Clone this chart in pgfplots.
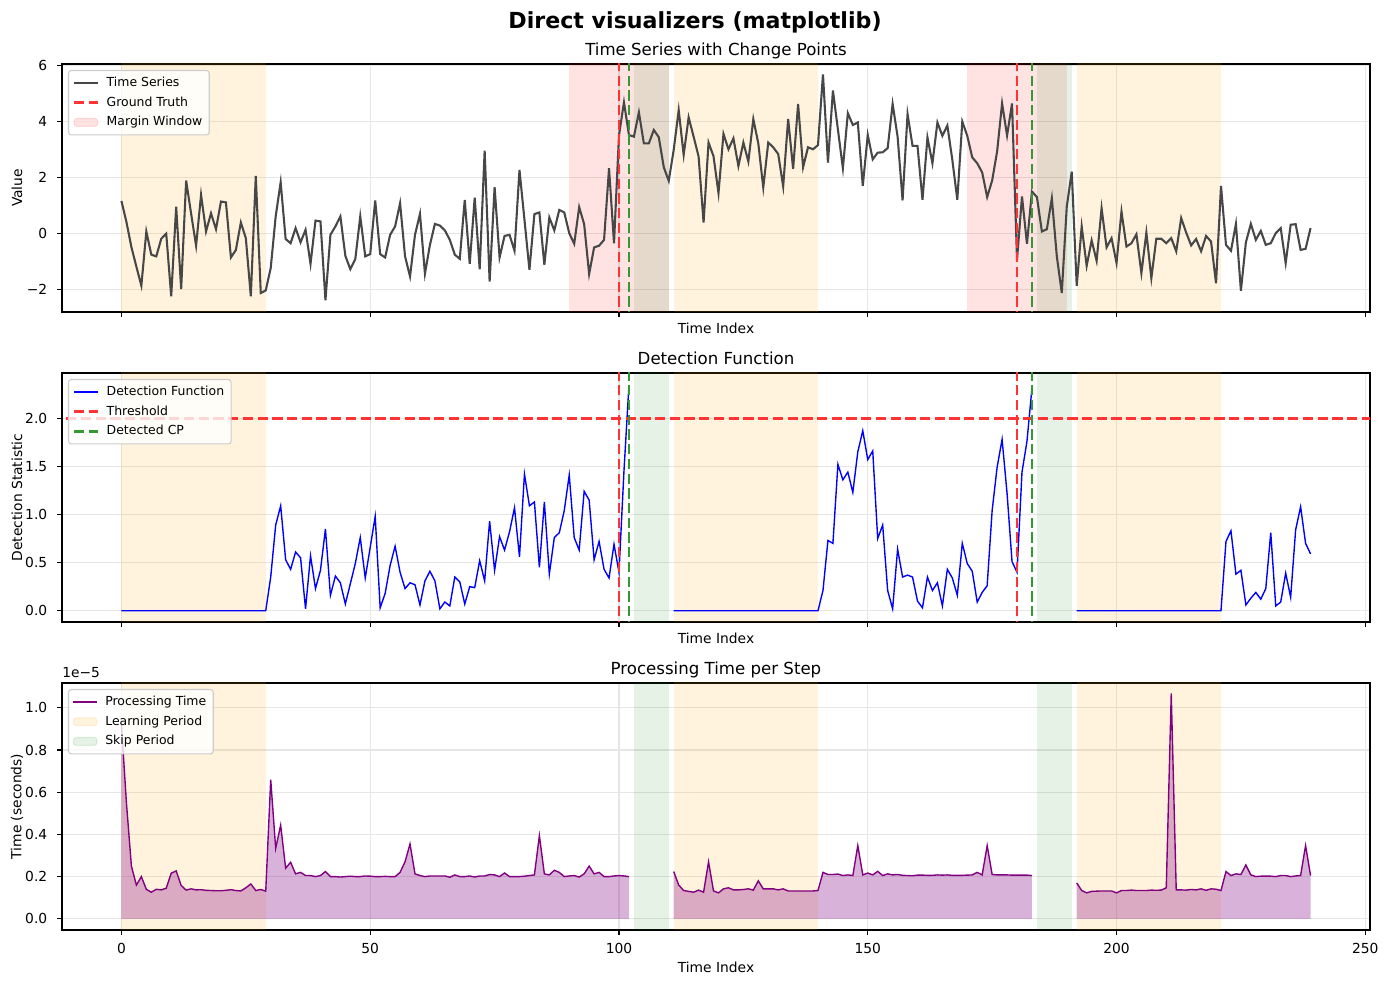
\documentclass[border=0pt]{standalone}
\usepackage{pgfplots}
\pgfplotsset{compat=1.18}
\usepackage{pgfplotstable}
\usepackage{fontspec}
\setmainfont{DejaVu Sans}

\definecolor{tsgray}{HTML}{474747}
\definecolor{gtred}{HTML}{FF3333}
\definecolor{cpgreen}{HTML}{339933}
\definecolor{mplpurple}{HTML}{800080}
\definecolor{mplgreen}{HTML}{008000}
\definecolor{mplorange}{HTML}{FFA500}
\definecolor{mplblue}{HTML}{0000FF}
\definecolor{gridgray}{HTML}{E6E6E6}
\definecolor{legframe}{HTML}{CCCCCC}

% x: step index, ts: observed series, det: detection statistic,
% pt: processing time per step (units of 1e-5 s); nan = skipped step
\pgfplotstableread{
x ts det pt
0 1.15 0 0.92
1 0.40 0 0.55
2 -0.50 0 0.25
3 -1.20 0 0.16
4 -1.88 0 0.20
5 0.06 0 0.14
6 -0.77 0 0.126
7 -0.83 0 0.14
8 -0.20 0 0.137
9 -0.02 0 0.145
10 -2.26 0 0.216
11 0.95 0 0.227
12 -2.00 0 0.158
13 1.88 0 0.136
14 0.70 0 0.142
15 -0.45 0 0.137
16 1.37 0 0.138
17 0.06 0 0.135
18 0.71 0 0.134
19 0.14 0 0.133
20 1.13 0 0.133
21 1.10 0 0.135
22 -0.87 0 0.138
23 -0.60 0 0.134
24 0.38 0 0.132
25 -0.18 0 0.147
26 -2.26 0 0.165
27 2.05 0 0.134
28 -2.14 0 0.139
29 -2.05 0 0.131
30 -1.25 0.35 0.66
31 0.60 0.89 0.334
32 1.82 1.09 0.444
33 -0.21 0.53 0.24
34 -0.36 0.43 0.268
35 0.18 0.61 0.213
36 -0.33 0.55 0.22
37 0.12 0.02 0.205
38 -1.10 0.57 0.205
39 0.45 0.23 0.20
40 0.42 0.42 0.205
41 -2.40 0.85 0.224
42 -0.06 0.16 0.20
43 0.24 0.36 0.20
44 0.60 0.29 0.198
45 -0.81 0.07 0.20
46 -1.29 0.28 0.202
47 -0.93 0.49 0.20
48 0.60 0.76 0.20
49 -0.83 0.34 0.203
50 -0.75 0.66 0.202
51 1.17 0.98 0.20
52 -0.75 0.03 0.20
53 -0.87 0.18 0.201
54 -0.06 0.47 0.20
55 0.24 0.67 0.20
56 1.07 0.40 0.22
57 -0.83 0.23 0.27
58 -1.55 0.29 0.355
59 -0.06 0.27 0.213
60 0.69 0.06 0.205
61 -1.45 0.31 0.20
62 -0.42 0.41 0.203
63 0.33 0.31 0.203
64 0.27 0.02 0.203
65 0.10 0.09 0.203
66 -0.24 0.05 0.197
67 -0.77 0.35 0.208
68 -0.92 0.30 0.20
69 1.19 0.07 0.20
70 -1.10 0.25 0.203
71 1.27 0.24 0.198
72 -1.29 0.52 0.203
73 2.95 0.31 0.203
74 -1.73 0.93 0.21
75 1.64 0.42 0.208
76 -0.87 0.77 0.20
77 -0.10 0.63 0.217
78 -0.06 0.82 0.20
79 -0.63 1.07 0.20
80 2.26 0.56 0.20
81 0.48 1.42 0.202
82 -1.31 1.09 0.205
83 0.68 1.13 0.208
84 0.74 0.45 0.394
85 -1.13 1.13 0.213
86 0.56 0.38 0.208
87 0.10 0.76 0.23
88 0.83 0.81 0.22
89 0.74 1.04 0.20
90 0.00 1.41 0.203
91 -0.38 0.76 0.205
92 0.93 0.63 0.198
93 0.32 1.24 0.213
94 -1.46 1.15 0.25
95 -0.51 0.53 0.213
96 -0.45 0.72 0.22
97 -0.24 0.43 0.20
98 2.32 0.34 0.20
99 -0.36 0.69 0.203
100 3.50 0.40 0.205
101 4.68 1.45 0.203
102 3.51 2.34 0.20
103 3.45 nan nan
104 4.32 nan nan
105 3.21 nan nan
106 3.21 nan nan
107 3.69 nan nan
108 3.43 nan nan
109 2.36 nan nan
110 1.87 nan nan
111 2.98 0 0.224
112 4.40 0 0.16
113 2.80 0 0.134
114 4.14 0 0.13
115 3.45 0 0.126
116 2.74 0 0.136
117 0.38 0 0.126
118 3.24 0 0.27
119 2.75 0 0.132
120 1.43 0 0.123
121 3.55 0 0.142
122 3.00 0 0.147
123 3.39 0 0.137
124 2.40 0 0.137
125 3.24 0 0.139
126 2.56 0 0.142
127 4.08 0 0.136
128 3.21 0 0.18
129 1.63 0 0.142
130 3.24 0 0.142
131 3.07 0 0.142
132 2.83 0 0.137
133 1.67 0 0.142
134 4.08 0 0.132
135 2.30 0 0.132
136 4.62 0 0.132
137 2.36 0 0.132
138 3.07 0 0.132
139 3.00 0 0.132
140 3.15 0 0.134
141 5.68 0.21 0.22
142 2.52 0.73 0.21
143 5.10 0.70 0.21
144 3.71 1.52 0.212
145 2.32 1.36 0.205
146 4.29 1.44 0.208
147 3.87 1.23 0.205
148 3.96 1.65 0.347
149 1.69 1.87 0.208
150 3.51 1.57 0.217
151 2.64 1.66 0.208
152 2.88 0.75 0.225
153 2.89 0.89 0.205
154 3.04 0.21 0.213
155 4.62 0.02 0.208
156 3.45 0.64 0.21
157 1.17 0.35 0.206
158 4.26 0.37 0.205
159 3.12 0.35 0.204
160 3.12 0.10 0.207
161 1.19 0.03 0.207
162 3.42 0.35 0.206
163 2.50 0.21 0.206
164 3.96 0.29 0.208
165 3.48 0.05 0.207
166 3.85 0.43 0.208
167 2.62 0.34 0.206
168 1.19 0.16 0.206
169 3.99 0.70 0.206
170 3.48 0.49 0.207
171 2.71 0.41 0.208
172 2.50 0.09 0.22
173 2.17 0.19 0.208
174 1.29 0.26 0.347
175 1.88 1.04 0.21
176 2.92 1.49 0.208
177 4.64 1.78 0.208
178 3.49 1.22 0.208
179 4.64 0.51 0.207
180 -0.95 0.40 0.207
181 1.31 1.44 0.207
182 -0.38 1.76 0.207
183 1.49 2.31 0.205
184 1.29 nan nan
185 0.06 nan nan
186 0.14 nan nan
187 1.25 nan nan
188 -0.83 nan nan
189 -2.14 nan nan
190 0.95 nan nan
191 2.20 nan nan
192 -1.88 0 0.17
193 0.24 0 0.134
194 -1.17 0 0.123
195 -0.26 0 0.13
196 -0.99 0 0.131
197 0.89 0 0.132
198 -0.51 0 0.132
199 -0.18 0 0.132
200 -1.07 0 0.123
201 0.77 0 0.134
202 -0.48 0 0.134
203 -0.36 0 0.136
204 -0.04 0 0.134
205 -1.43 0 0.134
206 0.02 0 0.134
207 -1.61 0 0.136
208 -0.20 0 0.135
209 -0.20 0 0.136
210 -0.36 0 0.147
211 -0.18 0 1.068
212 -0.65 0 0.137
213 0.54 0 0.137
214 0.02 0 0.136
215 -0.44 0 0.139
216 -0.21 0 0.137
217 -0.65 0 0.142
218 -0.10 0 0.135
219 -0.30 0 0.142
220 -1.79 0 0.14
221 1.69 0 0.134
222 -0.42 0.72 0.224
223 -0.63 0.83 0.205
224 0.33 0.38 0.213
225 -2.06 0.42 0.21
226 -0.33 0.06 0.255
227 0.33 0.13 0.208
228 -0.24 0.19 0.20
229 0.08 0.12 0.202
230 -0.42 0.23 0.202
231 -0.36 0.81 0.202
232 0.00 0.05 0.20
233 0.18 0.09 0.205
234 -1.07 0.39 0.205
235 0.30 0.14 0.20
236 0.32 0.84 0.203
237 -0.60 1.08 0.205
238 -0.56 0.70 0.347
239 0.18 0.59 0.205
}\steps

\pgfplotsset{
  panel/.style={
    scale only axis, width=941.76bp, anchor=north west,
    xmin=-11.95, xmax=250.95,
    axis line style={line width=0.8bp},
    every tick/.style={black, line width=0.8bp},
    tick align=outside, major tick length=3.5bp, tick pos=left,
    grid=major, grid style={gridgray, line width=0.8bp},
    xtick={0,50,100,150,200,250},
    tick label style={font=\fontsize{10}{12}\selectfont},
    xticklabel style={yshift=-2.5bp},
    yticklabel style={xshift=-3.6bp},
    /pgf/number format/assume math mode=true,
    title style={font=\fontsize{12}{14}\selectfont, at={(axis description cs:0.5,1)}, anchor=base, yshift=-0.2bp},
    xlabel={Time Index},
    label style={font=\fontsize{10}{12}\selectfont},
    ylabel style={at={(axis description cs:0,0.5)}, anchor=center, yshift=32.4bp},
    legend cell align=left,
    legend style={at={(axis description cs:0,1)}, anchor=north west, xshift=4.3bp, yshift=-4.3bp,
      font=\fontsize{9}{11}\selectfont, draw=legframe, line width=0.8bp, fill=white, fill opacity=0.8,
      text opacity=1, rounded corners=2bp, row sep=1.2bp, column sep=3.5bp, inner xsep=3bp, inner ysep=2.5bp,
      nodes={text height=7bp, text depth=2bp}},
    unbounded coords=jump,
  },
  dashline/.style={line width=2bp, dash pattern=on 7.4bp off 3.2bp},
  learn/.style={draw=none, fill=mplorange, fill opacity=0.13, forget plot},
  skip/.style={draw=none, fill=mplgreen, fill opacity=0.1, forget plot},
  margin/.style={draw=none, fill=red, fill opacity=0.11, forget plot},
}

\begin{document}
\begin{tikzpicture}
\useasboundingbox (0,0) rectangle (1000.08bp,709.2bp);

\node[anchor=base, font=\fontsize{16}{19}\selectfont\bfseries] at (500.4bp,689bp) {Direct visualizers (matplotlib)};

% ---- series with change points ----
\begin{axis}[panel, at={(44.64bp,663.12bp)}, height=178.56bp,
  ymin=-2.82, ymax=6.05,
  ytick={-2,0,2,4,6}, yticklabels={−2,0,2,4,6},
  xticklabels={}, xlabel style={at={(axis description cs:0.5,0)}, anchor=center, yshift=-11.5bp},
  title={Time Series with Change Points}, ylabel={Value}]
  \addplot[learn] coordinates {(0,-10) (29,-10) (29,10) (0,10)};
  \addplot[learn] coordinates {(111,-10) (140,-10) (140,10) (111,10)};
  \addplot[learn] coordinates {(192,-10) (221,-10) (221,10) (192,10)};
  \addplot[margin] coordinates {(90,-10) (110,-10) (110,10) (90,10)};
  \addplot[margin] coordinates {(170,-10) (190,-10) (190,10) (170,10)};
  \addplot[skip] coordinates {(103,-10) (110,-10) (110,10) (103,10)};
  \addplot[skip] coordinates {(184,-10) (191,-10) (191,10) (184,10)};
  \addplot[tsgray, line width=1.5bp, forget plot] table[x=x, y=ts] {\steps};
  \addplot[gtred, dashline, forget plot] coordinates {(100,-10) (100,10)};
  \addplot[gtred, dashline, forget plot] coordinates {(180,-10) (180,10)};
  \addplot[cpgreen, dashline, forget plot] coordinates {(102,-10) (102,10)};
  \addplot[cpgreen, dashline, forget plot] coordinates {(183,-10) (183,10)};
  \addlegendimage{tsgray, line width=1.5bp}
  \addlegendentry{Time Series}
  \addlegendimage{gtred, dashline}
  \addlegendentry{Ground Truth}
  \addlegendimage{area legend, draw=red, draw opacity=0.11, fill=red, fill opacity=0.11}
  \addlegendentry{Margin Window}
\end{axis}

% ---- detection statistic ----
\begin{axis}[panel, at={(44.64bp,440.64bp)}, height=179.28bp,
  ymin=-0.117, ymax=2.47,
  ytick={0,0.5,1,1.5,2}, yticklabels={0.0,0.5,1.0,1.5,2.0},
  xticklabels={}, xlabel style={at={(axis description cs:0.5,0)}, anchor=center, yshift=-11.5bp},
  title={Detection Function}, ylabel={Detection Statistic}]
  \addplot[learn] coordinates {(0,-10) (29,-10) (29,10) (0,10)};
  \addplot[learn] coordinates {(111,-10) (140,-10) (140,10) (111,10)};
  \addplot[learn] coordinates {(192,-10) (221,-10) (221,10) (192,10)};
  \addplot[skip] coordinates {(103,-10) (110,-10) (110,10) (103,10)};
  \addplot[skip] coordinates {(184,-10) (191,-10) (191,10) (184,10)};
  \addplot[mplblue, line width=1bp, forget plot] table[x=x, y=det] {\steps};
  \addplot[gtred, dashline, forget plot] coordinates {(-20,2) (260,2)};
  \addplot[gtred, dashline, forget plot] coordinates {(100,-10) (100,10)};
  \addplot[gtred, dashline, forget plot] coordinates {(180,-10) (180,10)};
  \addplot[cpgreen, dashline, forget plot] coordinates {(102,-10) (102,10)};
  \addplot[cpgreen, dashline, forget plot] coordinates {(183,-10) (183,10)};
  \addlegendimage{mplblue, line width=1bp}
  \addlegendentry{Detection Function}
  \addlegendimage{gtred, dashline}
  \addlegendentry{Threshold}
  \addlegendimage{cpgreen, dashline}
  \addlegendentry{Detected CP}
\end{axis}

% ---- processing time ----
\begin{axis}[panel, name=timing, at={(44.64bp,217.44bp)}, height=177.84bp,
  ymin=-0.053, ymax=1.118,
  ytick={0,0.2,0.4,0.6,0.8,1.0}, yticklabels={0.0,0.2,0.4,0.6,0.8,1.0},
  xticklabels={0,50,100,150,200,250},
  xlabel style={at={(axis description cs:0.5,0)}, anchor=center, yshift=-26.6bp},
  title={Processing Time per Step}, ylabel={Time (seconds)}]
  \addplot[learn] coordinates {(0,-10) (29,-10) (29,10) (0,10)};
  \addplot[learn] coordinates {(111,-10) (140,-10) (140,10) (111,10)};
  \addplot[learn] coordinates {(192,-10) (221,-10) (221,10) (192,10)};
  \addplot[skip] coordinates {(103,-10) (110,-10) (110,10) (103,10)};
  \addplot[skip] coordinates {(184,-10) (191,-10) (191,10) (184,10)};
  \addplot[draw=none, fill=mplpurple, fill opacity=0.3, forget plot, restrict x to domain=0:102] table[x=x, y=pt] {\steps} \closedcycle;
  \addplot[draw=none, fill=mplpurple, fill opacity=0.3, forget plot, restrict x to domain=111:183] table[x=x, y=pt] {\steps} \closedcycle;
  \addplot[draw=none, fill=mplpurple, fill opacity=0.3, forget plot, restrict x to domain=192:239] table[x=x, y=pt] {\steps} \closedcycle;
  \addplot[mplpurple, line width=1bp, forget plot] table[x=x, y=pt] {\steps};
  \addlegendimage{mplpurple, line width=1bp}
  \addlegendentry{Processing Time}
  \addlegendimage{area legend, draw=mplorange, draw opacity=0.13, fill=mplorange, fill opacity=0.13}
  \addlegendentry{Learning Period}
  \addlegendimage{area legend, draw=mplgreen, draw opacity=0.1, fill=mplgreen, fill opacity=0.1}
  \addlegendentry{Skip Period}
\end{axis}
% scale factor of the timing axis
\node[anchor=base west, font=\fontsize{10}{12}\selectfont, inner sep=0pt, yshift=3.6bp] at (timing.north west) {1e−5};
\end{tikzpicture}
\end{document}
